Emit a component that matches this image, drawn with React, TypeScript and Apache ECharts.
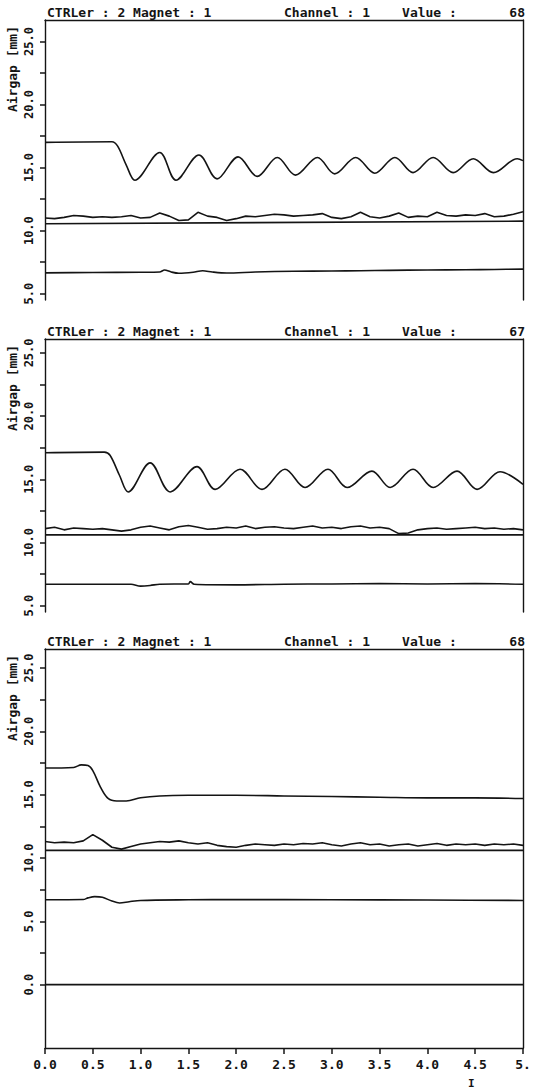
import React, { useEffect, useRef } from "react";
import * as echarts from "echarts";

// ---------- tick labels ----------
const xTickValues = [0, 0.5, 1, 1.5, 2, 2.5, 3, 3.5, 4, 4.5, 5];
const xTickLabels = ["0.0", "0.5", "1.0", "1.5", "2.0", "2.5", "3.0", "3.5", "4.0", "4.5", "5."];
const yLabelValuesTop = [5, 10, 15, 20, 25];
const yTickValuesTop = [5, 7.5, 10, 12.5, 15, 17.5, 20, 22.5, 25];
const yLabelValuesBottom = [0, 5, 10, 15, 20, 25];
const yTickValuesBottom = [0, 2.5, 5, 7.5, 10, 12.5, 15, 17.5, 20, 22.5, 25];

// ---------- titles ----------
const titleCtrl = "CTRLer : 2 Magnet : 1";
const titleChannel = "Channel : 1";
const titleValueLabel = "Value :";
const titleValues = ["68", "67", "68"];
const yAxisTitle = "Airgap [mm]";

// ---------- sampling times of the noisy channel ----------
const noiseT = [0, 0.1, 0.2, 0.3, 0.4, 0.5, 0.6, 0.7, 0.8, 0.9, 1.0, 1.1, 1.2, 1.3, 1.4, 1.5, 1.6, 1.7, 1.8, 1.9, 2.0,
  2.1, 2.2, 2.3, 2.4, 2.5, 2.6, 2.7, 2.8, 2.9, 3.0, 3.1, 3.2, 3.3, 3.4, 3.5, 3.6, 3.7, 3.8, 3.9, 4.0,
  4.1, 4.2, 4.3, 4.4, 4.5, 4.6, 4.7, 4.8, 4.9, 5.0];

// ---------- panel 1 ----------
const p1CurveT = [0, 0.7, 0.76, 0.85, 0.94, 1.2, 1.37, 1.61, 1.8, 2.02, 2.22, 2.43, 2.62, 2.85, 3.03, 3.25, 3.45, 3.66, 3.85, 4.06, 4.27, 4.48, 4.69, 4.94, 5.0];
const p1CurveV = [17.0, 17.05, 16.7, 15.2, 14.0, 16.2, 14.0, 16.0, 14.1, 15.85, 14.3, 15.8, 14.4, 15.8, 14.5, 15.8, 14.55, 15.8, 14.6, 15.8, 14.6, 15.7, 14.6, 15.7, 15.55];
const p1NoiseV = [11.0, 10.95, 11.05, 11.2, 11.15, 11.05, 11.1, 11.05, 11.1, 11.2, 11.0, 11.05, 11.4, 11.15, 10.8, 10.85, 11.45, 11.15, 11.05, 10.8, 10.95,
  11.15, 11.1, 11.2, 11.3, 11.25, 11.15, 11.2, 11.25, 11.35, 11.05, 10.95, 11.1, 11.45, 11.1, 11.0, 11.15, 11.4, 11.05, 11.15, 11.1,
  11.45, 11.2, 11.15, 11.25, 11.2, 11.35, 11.1, 11.15, 11.3, 11.5];
const p1FlatT = [0, 5];
const p1FlatV = [10.55, 10.75];
const p1LowT = [0, 0.5, 1.0, 1.2, 1.25, 1.32, 1.4, 1.55, 1.65, 1.75, 1.9, 2.2, 2.6, 3.0, 3.3, 3.6, 4.0, 4.4, 4.7, 5.0];
const p1LowV = [6.65, 6.68, 6.7, 6.72, 6.88, 6.72, 6.62, 6.7, 6.82, 6.72, 6.64, 6.72, 6.78, 6.8, 6.82, 6.85, 6.88, 6.9, 6.92, 6.95];

// ---------- panel 2 ----------
const p2CurveT = [0, 0.62, 0.68, 0.78, 0.87, 1.1, 1.31, 1.59, 1.78, 2.04, 2.27, 2.51, 2.72, 2.96, 3.16, 3.42, 3.61, 3.85, 4.06, 4.31, 4.52, 4.76, 5.0];
const p2CurveV = [17.1, 17.15, 16.9, 15.3, 14.0, 16.3, 14.0, 16.0, 14.2, 15.8, 14.2, 15.8, 14.35, 15.8, 14.35, 15.65, 14.35, 15.8, 14.35, 15.65, 14.2, 15.6, 14.6];
const p2NoiseV = [11.1, 11.2, 11.0, 11.15, 11.1, 11.05, 11.1, 11.0, 10.9, 11.0, 11.2, 11.3, 11.15, 11.0, 11.25, 11.35, 11.2, 11.05, 11.1, 11.2, 11.15,
  11.3, 11.1, 11.2, 11.25, 11.15, 11.1, 11.2, 11.3, 11.15, 11.2, 11.1, 11.25, 11.3, 11.15, 11.2, 11.1, 10.7, 10.75, 11.0, 11.1,
  11.15, 11.05, 11.1, 11.15, 11.2, 11.1, 11.15, 11.05, 11.1, 11.0];
const p2FlatT = [0, 5];
const p2FlatV = [10.6, 10.6];
const p2LowT = [0, 0.9, 1.0, 1.1, 1.2, 1.5, 1.52, 1.56, 2.0, 2.5, 3.0, 3.5, 4.0, 4.5, 5.0];
const p2LowV = [6.7, 6.7, 6.55, 6.6, 6.7, 6.72, 6.9, 6.7, 6.65, 6.7, 6.72, 6.75, 6.72, 6.75, 6.7];

// ---------- panel 3 ----------
const p3CurveT = [0, 0.3, 0.38, 0.45, 0.5, 0.58, 0.66, 0.75, 0.85, 1.0, 1.2, 1.5, 2.0, 2.5, 3.0, 3.5, 4.0, 4.5, 5.0];
const p3CurveV = [17.1, 17.15, 17.35, 17.3, 16.9, 15.6, 14.7, 14.5, 14.5, 14.75, 14.9, 14.95, 14.95, 14.9, 14.85, 14.8, 14.75, 14.75, 14.7];
const p3NoiseV = [11.3, 11.2, 11.25, 11.2, 11.35, 11.85, 11.4, 10.85, 10.7, 10.9, 11.1, 11.2, 11.3, 11.25, 11.35, 11.2, 11.1, 11.2, 11.0, 10.9, 10.85,
  11.0, 11.1, 11.05, 11.0, 11.1, 11.05, 11.15, 11.1, 11.2, 11.05, 10.95, 11.1, 11.2, 11.05, 11.1, 10.95, 11.05, 11.1, 10.95, 11.05,
  11.15, 11.0, 11.1, 11.05, 11.1, 11.0, 11.1, 11.05, 11.1, 11.0];
const p3FlatT = [0, 5];
const p3FlatV = [10.6, 10.6];
const p3LowT = [0, 0.4, 0.45, 0.52, 0.6, 0.7, 0.78, 0.88, 1.0, 1.5, 2.0, 3.0, 4.0, 5.0];
const p3LowV = [6.7, 6.72, 6.85, 6.95, 6.9, 6.6, 6.45, 6.55, 6.65, 6.7, 6.72, 6.7, 6.68, 6.65];
const p3ZeroT = [0, 5];
const p3ZeroV = [0, 0];

const INK = "#141414";
const MONO = "'DejaVu Sans Mono', 'Liberation Mono', monospace";

const zip = (t: number[], v: number[]) => t.map((x, i) => [x, v[i]]);

export default function App() {
  const ref = useRef<HTMLDivElement>(null);

  useEffect(() => {
    if (!ref.current) return;
    const chart = echarts.init(ref.current, undefined, { renderer: "svg" });

    const L = 45;
    const R = 14;
    const W = 537 - L - R;
    const panels = [
      { top: 20, height: 280, min: 4.5, max: 26.7, labels: yLabelValuesTop, ticks: yTickValuesTop, bottomAxis: false },
      { top: 339, height: 273, min: 4.5, max: 26.1, labels: yLabelValuesTop, ticks: yTickValuesTop, bottomAxis: false },
      { top: 649, height: 399, min: -5, max: 26.5, labels: yLabelValuesBottom, ticks: yTickValuesBottom, bottomAxis: true },
    ];

    const grid = panels.map((p) => ({ left: L, width: W, top: p.top, height: p.height, show: false }));

    const xAxis: any[] = [];
    const yAxis: any[] = [];
    panels.forEach((p, i) => {
      // top border
      xAxis.push({
        type: "value", gridIndex: i, position: "top", min: 0, max: 5,
        axisLine: { show: true, onZero: false, lineStyle: { color: INK, width: 1.4 } },
        axisTick: { show: false }, axisLabel: { show: false }, splitLine: { show: false },
      });
      // bottom axis (only last panel)
      xAxis.push({
        type: "value", gridIndex: i, position: "bottom", min: 0, max: 5,
        axisLine: { show: p.bottomAxis, onZero: false, lineStyle: { color: INK, width: 1.4 } },
        axisTick: { show: p.bottomAxis, inside: false, length: 6, customValues: xTickValues, lineStyle: { color: INK, width: 1.5 } },
        axisLabel: {
          show: p.bottomAxis, customValues: xTickValues, margin: 10,
          color: INK, fontFamily: MONO, fontSize: 13, fontWeight: "bold",
          formatter: (v: number) => {
            const k = xTickValues.findIndex((x) => Math.abs(x - v) < 1e-6);
            return k >= 0 ? xTickLabels[k] : "";
          },
        },
        splitLine: { show: false },
      });
      // left axis
      yAxis.push({
        type: "value", gridIndex: i, position: "left", min: p.min, max: p.max,
        axisLine: { show: true, onZero: false, lineStyle: { color: INK, width: 1.4 } },
        axisTick: { show: true, inside: false, length: 5, customValues: p.ticks, lineStyle: { color: INK, width: 1.5 } },
        axisLabel: {
          show: true, customValues: p.labels, rotate: 90, margin: 10,
          color: INK, fontFamily: MONO, fontSize: 12, fontWeight: "bold",
          formatter: (v: number) => v.toFixed(1),
        },
        splitLine: { show: false },
      });
      // right border
      yAxis.push({
        type: "value", gridIndex: i, position: "right", min: p.min, max: p.max,
        axisLine: { show: true, onZero: false, lineStyle: { color: INK, width: 1.4 } },
        axisTick: { show: false }, axisLabel: { show: false }, splitLine: { show: false },
      });
    });

    const lineStyle = { color: INK, width: 1.6 };
    const mk = (panel: number, data: number[][], smooth: number | boolean = false) => ({
      type: "line", xAxisIndex: panel * 2 + 1, yAxisIndex: panel * 2,
      data, smooth, showSymbol: false, symbol: "none", lineStyle, silent: true,
    });

    const series = [
      mk(0, zip(p1CurveT, p1CurveV), 0.35),
      mk(0, zip(noiseT, p1NoiseV)),
      mk(0, zip(p1FlatT, p1FlatV)),
      mk(0, zip(p1LowT, p1LowV), 0.3),
      mk(1, zip(p2CurveT, p2CurveV), 0.35),
      mk(1, zip(noiseT, p2NoiseV)),
      mk(1, zip(p2FlatT, p2FlatV)),
      mk(1, zip(p2LowT, p2LowV), 0.3),
      mk(2, zip(p3CurveT, p3CurveV), 0.35),
      mk(2, zip(noiseT, p3NoiseV)),
      mk(2, zip(p3FlatT, p3FlatV)),
      mk(2, zip(p3LowT, p3LowV), 0.3),
      mk(2, zip(p3ZeroT, p3ZeroV)),
    ];

    const txt = (x: number, y: number, text: string, align: string) => ({
      type: "text", x, y, silent: true,
      style: { text, fill: INK, font: `bold 13px ${MONO}`, textAlign: align, textVerticalAlign: "bottom" },
    });

    const graphic: any[] = [];
    panels.forEach((p, i) => {
      const ty = p.top - 1;
      graphic.push(txt(L + 2, ty, titleCtrl, "left"));
      graphic.push(txt(L + 0.5 * W, ty, titleChannel, "left"));
      graphic.push(txt(L + 0.747 * W, ty, titleValueLabel, "left"));
      graphic.push(txt(L + W + 2, ty, titleValues[i], "right"));
      graphic.push({
        type: "text", x: 12, y: p.top + 6, rotation: Math.PI / 2, silent: true,
        style: { text: yAxisTitle, fill: INK, font: `bold 13px ${MONO}`, textAlign: "right", textVerticalAlign: "middle" },
      });
    });
    graphic.push({
      type: "text", x: L + 0.9 * W - 4, y: 1083, silent: true,
      style: { text: "I", fill: INK, font: `bold 11px ${MONO}`, textAlign: "center", textVerticalAlign: "middle" },
    });

    chart.setOption({
      animation: false,
      backgroundColor: "#ffffff",
      grid, xAxis, yAxis, series, graphic,
    });

    return () => chart.dispose();
  }, []);

  return (
    <div
      ref={ref}
      style={{ position: "absolute", left: 0, top: 0, width: 537, height: 1091, background: "#fff" }}
    />
  );
}
